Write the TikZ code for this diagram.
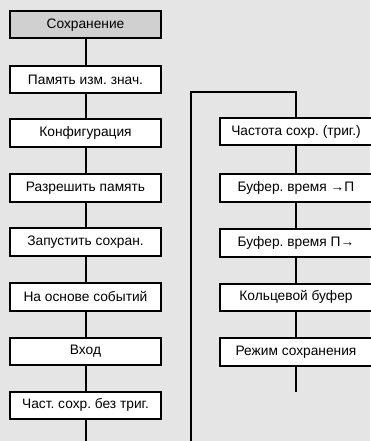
\documentclass[tikz,border=0pt]{standalone}
\usepackage{fontspec}
\setmainfont{Liberation Sans}
\frenchspacing
\definecolor{bgc}{HTML}{E5E5E5}
\definecolor{hdc}{HTML}{D0D0D0}
\begin{document}
\begin{tikzpicture}[x=1bp,y=-1bp,
  box/.style={draw=black,line width=2bp,fill=white,minimum width=151bp,minimum height=27.5bp,inner sep=0pt,anchor=north,font=\fontsize{13.8}{15}\selectfont},
  conn/.style={line width=2bp}]
\fill[bgc] (0,0) rectangle (370,441);
\useasboundingbox (0,0) rectangle (370,441);
% left column
\node[box,fill=hdc] (l0) at (85.5,10) {Сохранение};
\node[box] (l1) at (85.5,65) {Память изм. знач.};
\node[box] (l2) at (85.5,118.5) {Конфигурация};
\node[box] (l3) at (85.5,173.5) {Разрешить память};
\node[box] (l4) at (85.5,227) {Запустить сохран.};
\node[box] (l5) at (85.5,282) {На основе событий};
\node[box] (l6) at (85.5,336.5) {Вход};
\node[box] (l7) at (85.5,390.5) {Част. сохр. без триг.};
\coordinate (lend) at (85.5,441);
\foreach \a/\b in {l0/l1,l1/l2,l2/l3,l3/l4,l4/l5,l5/l6,l6/l7}
  \draw[conn] (\a.south) -- (\b.north);
\draw[conn] (l7.south) -- (lend);
% right column
\node[box,minimum width=152bp] (r1) at (296,117) {Частота сохр. (триг.)};
\node[box,minimum width=152bp] (r2) at (296,173.5) {Буфер. время →П};
\node[box,minimum width=152bp] (r3) at (296,228) {Буфер. время П→};
\node[box,minimum width=152bp] (r4) at (296,282.5) {Кольцевой буфер};
\node[box,minimum width=152bp] (r5) at (296,337) {Режим сохранения};
\coordinate (rbot) at (191,441);
\coordinate (rtop) at (191,92);
\coordinate (rend) at (296,392);
\draw[conn] (rbot) -- (rtop) -| (r1.north);
\foreach \a/\b in {r1/r2,r2/r3,r3/r4,r4/r5}
  \draw[conn] (\a.south) -- (\b.north);
\draw[conn] (r5.south) -- (rend);
\end{tikzpicture}
\end{document}
